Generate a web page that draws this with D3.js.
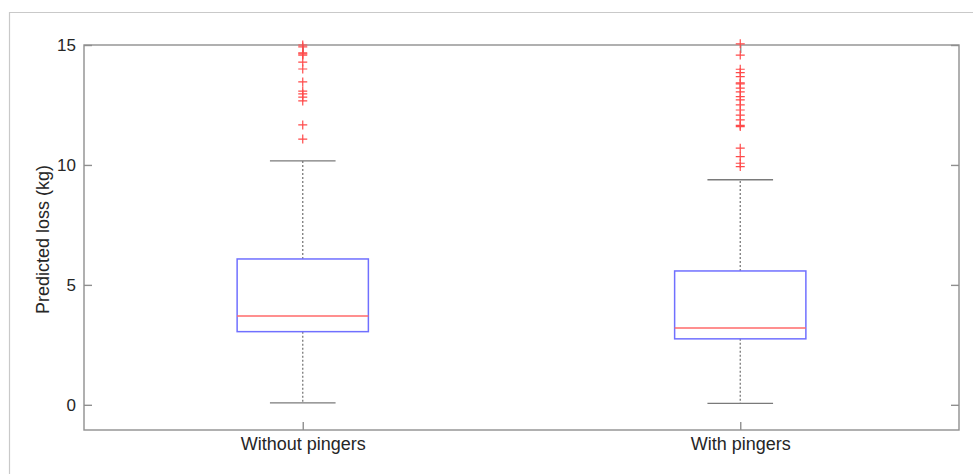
<!DOCTYPE html>
<html>
<head>
<meta charset="utf-8">
<script src="https://cdn.jsdelivr.net/npm/d3@7"></script>
<style>
  html, body { margin: 0; padding: 0; background: #fff; }
  svg { display: block; }
  text { font-family: "Liberation Sans", Arial, Helvetica, sans-serif; fill: #262626; }
</style>
</head>
<body>
<svg id="chart" width="973" height="474"></svg>
<script>
// Box plot of predicted loss per trip, with and without pingers
const categories = ["Without pingers", "With pingers"];
const lowerWhisker = [0.08, 0.06];
const q1 = [3.05, 2.75];
const medians = [3.7, 3.2];
const q3 = [6.08, 5.58];
const upperWhisker = [10.17, 9.38];
const outliersWithout = [15.0, 14.92, 14.67, 14.63, 14.58, 14.29, 14.0, 13.46, 13.08,
  12.96, 12.83, 12.67, 11.67, 11.08];
const outliersWith = [15.05, 14.58, 13.99, 13.85, 13.68, 13.42, 13.38, 13.2, 13.05,
  12.85, 12.71, 12.5, 12.29, 12.08, 11.88, 11.65, 11.6, 10.7, 10.35, 10.07, 9.93];
const yTicks = [0, 5, 10, 15];
const yLabel = "Predicted loss (kg)";

const outliers = [outliersWithout, outliersWith];
const boxes = categories.map((c, i) => ({
  name: c, pos: i + 1,
  lo: lowerWhisker[i], q1: q1[i], med: medians[i], q3: q3[i], hi: upperWhisker[i],
  out: outliers[i]
}));

const svg = d3.select("#chart");
const plotLeft = 84, plotRight = 959, plotTop = 45, plotBottom = 430;

const x = d3.scaleLinear().domain([0.5, 2.5]).range([plotLeft, plotRight]);
const y = d3.scaleLinear().domain([-1.05, 15]).range([plotBottom, plotTop]);

const axisColor = "#8f8f8f";

// figure border
svg.append("path")
  .attr("d", `M9.5,474V12.5H973`)
  .attr("fill", "none").attr("stroke", "#c9c9c9").attr("stroke-width", 1.2);

// plot frame
svg.append("rect")
  .attr("x", plotLeft).attr("y", plotTop)
  .attr("width", plotRight - plotLeft).attr("height", plotBottom - plotTop)
  .attr("fill", "none").attr("stroke", axisColor).attr("stroke-width", 1.4);

const tickFont = 17, labelFont = 18;

function styleAxis(g, size) {
  g.select(".domain").remove();
  g.selectAll(".tick line").attr("stroke", axisColor).attr("stroke-width", 1.4);
  g.selectAll(".tick text").style("font-size", size + "px").attr("fill", "#262626");
}

// left axis with inward ticks
svg.append("g").attr("transform", `translate(${plotLeft},0)`)
  .call(d3.axisLeft(y).tickValues(yTicks).tickFormat(d3.format("d")).tickSize(-8).tickPadding(8))
  .call(styleAxis, tickFont);

// right axis ticks
svg.append("g").attr("transform", `translate(${plotRight},0)`)
  .call(d3.axisRight(y).tickValues(yTicks).tickFormat("").tickSize(-8))
  .call(styleAxis, tickFont);

// bottom axis with category labels
svg.append("g").attr("transform", `translate(0,${plotBottom})`)
  .call(d3.axisBottom(x).tickValues(boxes.map(b => b.pos))
    .tickFormat((d, i) => categories[i]).tickSize(-8).tickPadding(7))
  .call(styleAxis, labelFont);

// top axis ticks
svg.append("g").attr("transform", `translate(0,${plotTop})`)
  .call(d3.axisTop(x).tickValues(boxes.map(b => b.pos)).tickFormat("").tickSize(-8))
  .call(styleAxis, tickFont);

// y axis title
svg.append("text")
  .attr("transform", `translate(49,${(plotTop + plotBottom) / 2 + 2}) rotate(-90)`)
  .attr("text-anchor", "middle")
  .style("font-size", labelFont + "px")
  .text(yLabel);

const boxHalf = 0.15, capHalf = 0.075;
const gBox = svg.append("g").selectAll("g").data(boxes).join("g");

// dotted whiskers
gBox.append("line")
  .attr("x1", d => x(d.pos)).attr("x2", d => x(d.pos))
  .attr("y1", d => y(d.q3)).attr("y2", d => y(d.hi))
  .attr("stroke", "#7a7a7a").attr("stroke-width", 1.3).attr("stroke-dasharray", "2,2");
gBox.append("line")
  .attr("x1", d => x(d.pos)).attr("x2", d => x(d.pos))
  .attr("y1", d => y(d.q1)).attr("y2", d => y(d.lo))
  .attr("stroke", "#7a7a7a").attr("stroke-width", 1.3).attr("stroke-dasharray", "2,2");

// whisker caps
["hi", "lo"].forEach(k => {
  gBox.append("line")
    .attr("x1", d => x(d.pos - capHalf)).attr("x2", d => x(d.pos + capHalf))
    .attr("y1", d => y(d[k])).attr("y2", d => y(d[k]))
    .attr("stroke", "#7a7a7a").attr("stroke-width", 1.4);
});

// boxes
gBox.append("rect")
  .attr("x", d => x(d.pos - boxHalf))
  .attr("width", d => x(d.pos + boxHalf) - x(d.pos - boxHalf))
  .attr("y", d => y(d.q3))
  .attr("height", d => y(d.q1) - y(d.q3))
  .attr("fill", "none").attr("stroke", "#7070ff").attr("stroke-width", 1.5);

// medians
gBox.append("line")
  .attr("x1", d => x(d.pos - boxHalf)).attr("x2", d => x(d.pos + boxHalf))
  .attr("y1", d => y(d.med)).attr("y2", d => y(d.med))
  .attr("stroke", "#ff6a6a").attr("stroke-width", 1.5);

// outliers as plus markers
const m = 4.5;
gBox.selectAll("path.out")
  .data(d => d.out.map(v => ({ pos: d.pos, v })))
  .join("path")
  .attr("class", "out")
  .attr("d", d => {
    const cx = x(d.pos), cy = y(d.v);
    return `M${cx - m},${cy}H${cx + m}M${cx},${cy - m}V${cy + m}`;
  })
  .attr("fill", "none").attr("stroke", "#ff4a4a").attr("stroke-width", 1.2);
</script>
</body>
</html>
